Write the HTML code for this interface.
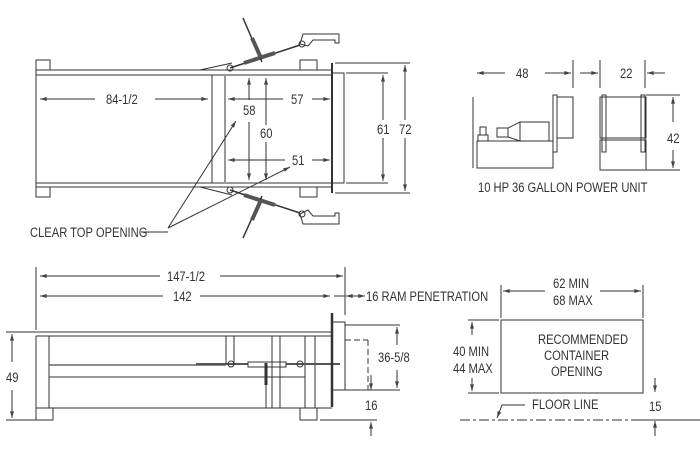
<!DOCTYPE html>
<html><head><meta charset="utf-8"><style>
html,body{margin:0;padding:0;background:#fff;}
svg{display:block}
text{font-family:"Liberation Sans",sans-serif;font-size:14px;fill:#333;stroke:none;font-weight:normal;transform-box:fill-box;transform-origin:0 0;transform:scaleX(0.8);}
</style></head><body>
<svg width="700" height="456" viewBox="0 0 700 456" xmlns="http://www.w3.org/2000/svg" stroke="#333" stroke-width="1" fill="none">
<defs>
<marker id="a" viewBox="0 0 10 6" refX="10" refY="3" markerWidth="8" markerHeight="4" orient="auto-start-reverse"><path d="M0,0L10,3L0,6z" fill="#444" stroke="none"/></marker>
</defs>
<!-- TOP VIEW -->
<rect x="36" y="60" width="14" height="10"/><rect x="36" y="187" width="14" height="10"/>
<rect x="300" y="60" width="17" height="10"/><rect x="300" y="187" width="17" height="10"/>
<path d="M36 70H332M36 75H332M36 183H332M36 187H332M36 70V187"/>
<path d="M212 75V183M225 76V182"/>
<path d="M332 63V193" stroke-width="2"/>
<path d="M333 73H344V183H333"/>
<path d="M200 70L232 63M200 187L232 195"/>
<path d="M230 68L300 45" stroke-width="1.5"/><path d="M244 63L275 53" stroke-width="4" stroke="#555"/>
<path d="M243 18L262 62" stroke-width="1.5"/><path d="M252 38L261 58" stroke-width="4" stroke="#555"/>
<circle cx="230" cy="68" r="3"/><circle cx="302" cy="44" r="3"/>
<path d="M300 44L303 34H339V43H335V40H313L308 46Z"/>
<path d="M230 190L300 213" stroke-width="1.5"/><path d="M244 195L275 205" stroke-width="4" stroke="#555"/>
<path d="M243 238L262 196" stroke-width="1.5"/><path d="M252 220L261 200" stroke-width="4" stroke="#555"/>
<circle cx="230" cy="190" r="3"/><circle cx="302" cy="214" r="3"/>
<path d="M300 214L303 224H339V213H335V216H313L308 210Z"/>
<path d="M40 99H95" marker-start="url(#a)"/><path d="M155 99H208" marker-end="url(#a)"/>
<text x="106" y="104">84-1/2</text>
<path d="M228 99H283" marker-start="url(#a)"/><path d="M312 99H330" marker-end="url(#a)"/>
<text x="291" y="104">57</text>
<path d="M228 160H285" marker-start="url(#a)"/><path d="M312 160H330" marker-end="url(#a)"/>
<text x="292" y="165">51</text>
<path d="M249 100V78" marker-end="url(#a)"/><path d="M249 122V180" marker-end="url(#a)"/>
<text x="243" y="115">58</text>
<path d="M266 125V78" marker-end="url(#a)"/><path d="M266 142V180" marker-end="url(#a)"/>
<text x="260" y="138">60</text>
<path d="M346 73H388M346 183H388M335 63H410M335 193H410"/>
<path d="M383 120V75" marker-end="url(#a)"/><path d="M383 138V181" marker-end="url(#a)"/>
<text x="377" y="134">61</text>
<path d="M405 120V65" marker-end="url(#a)"/><path d="M405 138V191" marker-end="url(#a)"/>
<text x="399" y="134">72</text>
<text x="30" y="237">CLEAR TOP OPENING</text>
<path d="M141 232H168"/>
<path d="M168 228L236 121" marker-end="url(#a)"/><path d="M168 228L290 167" marker-end="url(#a)"/>
<!-- POWER UNIT -->
<path d="M473 97V168M573 88V60M600 88V60M645 88V60"/>
<path d="M477 73H505" marker-start="url(#a)"/><path d="M545 73H571" marker-end="url(#a)"/>
<text x="516" y="78">48</text>
<path d="M580 73H598" marker-end="url(#a)"/><path d="M665 73H647" marker-end="url(#a)"/>
<text x="620" y="78">22</text>
<rect x="477" y="141" width="76" height="27"/>
<rect x="478" y="135" width="10" height="6"/><rect x="480" y="127" width="6" height="8"/>
<rect x="497" y="128" width="11" height="9"/><path d="M508 128L520 122V141L508 137"/>
<rect x="520" y="122" width="29" height="19"/>
<rect x="553" y="95" width="4" height="57"/><rect x="557" y="97" width="16" height="41"/>
<path d="M553 152V168"/>
<rect x="600" y="97" width="46" height="41"/><rect x="600" y="140" width="46" height="30"/>
<rect x="602" y="95" width="4" height="57"/><rect x="641" y="95" width="4" height="57"/>
<path d="M646 95H680M646 170H680"/>
<path d="M673 122V97" marker-end="url(#a)"/><path d="M673 150V168" marker-end="url(#a)"/>
<text x="667" y="143">42</text>
<text x="478" y="192">10 HP 36 GALLON POWER UNIT</text>
<!-- SIDE VIEW -->
<path d="M36 267V330M345 267V315"/>
<path d="M40 276H160" marker-start="url(#a)"/><path d="M220 276H343" marker-end="url(#a)"/>
<text x="167" y="281">147-1/2</text>
<path d="M40 296H163" marker-start="url(#a)"/><path d="M200 296H330" marker-end="url(#a)"/>
<text x="173" y="301">142</text>
<path d="M334 296H345M346 296H364"/><path d="M350 296H346" marker-end="url(#a)"/><path d="M359 296H365" marker-end="url(#a)"/>
<text x="366" y="301">16 RAM PENETRATION</text>
<path d="M36 332H332M36 336H332"/>
<path d="M36 336V408M49 336V408M305 336V408M315 336V408"/>
<rect x="36" y="408" width="17" height="12"/><rect x="300" y="408" width="17" height="12"/>
<path d="M49 377H305M49 408H332"/>
<path d="M49 365H226" stroke="#666" stroke-width="1.5"/>
<path d="M196 364H340" stroke="#555" stroke-width="2"/>
<rect x="248" y="362" width="38" height="5" fill="#fff"/>
<path d="M226 336V364M234 336V364M272 336V408M280 336V408"/>
<path d="M266 363V385" stroke-width="3"/><path d="M266 385V408"/>
<circle cx="231" cy="364" r="3"/><circle cx="300" cy="364" r="3"/>
<path d="M332 313V407" stroke-width="2.5"/>
<path d="M333 322H345V390H333"/>
<path d="M345 340H368M368 340V390" stroke-dasharray="6,3"/>
<path d="M345 325H400M345 390H400"/>
<path d="M397 345V327" marker-end="url(#a)"/><path d="M397 370V388" marker-end="url(#a)"/>
<text x="378" y="362">36-5/8</text>
<path d="M371 375V390" marker-end="url(#a)"/>
<text x="365" y="410">16</text>
<path d="M320 420H377"/><path d="M371 436V422" marker-end="url(#a)"/>
<path d="M6 332H36M6 420H36"/>
<path d="M12 362V334" marker-end="url(#a)"/><path d="M12 390V418" marker-end="url(#a)"/>
<text x="6" y="382">49</text>
<!-- CONTAINER -->
<rect x="501" y="320" width="142" height="73"/>
<path d="M501 285V318M643 285V318"/>
<path d="M503 291H545" marker-start="url(#a)"/><path d="M600 291H641" marker-end="url(#a)"/>
<text x="553" y="288">62 MIN</text><text x="553" y="305">68 MAX</text>
<path d="M468 320H499M468 393H499"/>
<path d="M472 335V322" marker-end="url(#a)"/><path d="M472 378V391" marker-end="url(#a)"/>
<text x="453" y="356">40 MIN</text><text x="453" y="373">44 MAX</text>
<text x="538" y="344">RECOMMENDED</text><text x="544" y="360">CONTAINER</text><text x="551" y="376">OPENING</text>
<path d="M655 378V392" marker-end="url(#a)"/><path d="M655 436V421" marker-end="url(#a)"/>
<text x="649" y="411">15</text>
<path d="M460 420H640" stroke-dasharray="10,3,3,3"/><path d="M640 420H700"/>
<text x="532" y="409">FLOOR LINE</text>
<path d="M525 405H502L497 418" marker-end="url(#a)"/>
</svg>
</body></html>
